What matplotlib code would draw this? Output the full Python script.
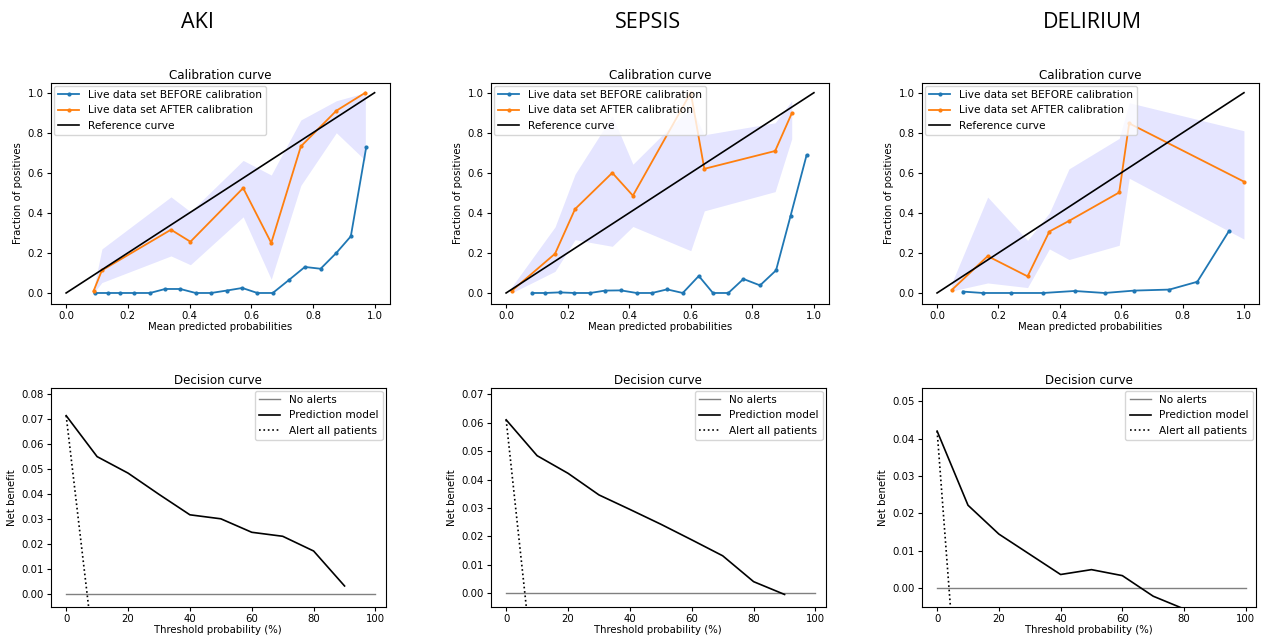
import matplotlib
matplotlib.use("Agg")
import matplotlib.pyplot as plt

# ---------------- data ----------------
outcomes = ["AKI", "SEPSIS", "DELIRIUM"]

# Calibration: BEFORE calibration
aki_before_x = [0.092, 0.135, 0.175, 0.221, 0.272, 0.321, 0.37, 0.42, 0.47, 0.52, 0.571, 0.62, 0.67, 0.724, 0.774, 0.825, 0.876, 0.923, 0.973]
aki_before_y = [0, 0, 0, 0, 0, 0.02, 0.02, 0, 0, 0.012, 0.025, 0, 0, 0.067, 0.13, 0.121, 0.2, 0.283, 0.729]
sep_before_x = [0.084, 0.127, 0.174, 0.222, 0.273, 0.322, 0.373, 0.424, 0.474, 0.523, 0.574, 0.626, 0.672, 0.722, 0.771, 0.825, 0.877, 0.924, 0.976]
sep_before_y = [0, 0, 0.003, 0, 0, 0.012, 0.013, 0, 0, 0.018, 0, 0.085, 0, 0, 0.07, 0.038, 0.113, 0.384, 0.687]
del_before_x = [0.084, 0.149, 0.242, 0.346, 0.448, 0.546, 0.643, 0.757, 0.848, 0.951]
del_before_y = [0.007, 0, 0, 0, 0.01, 0, 0.012, 0.017, 0.056, 0.309]

# Calibration: AFTER calibration, with band
aki_after_x = [0.089, 0.116, 0.34, 0.403, 0.574, 0.665, 0.761, 0.876, 0.97]
aki_after_y = [0.01, 0.113, 0.316, 0.256, 0.524, 0.25, 0.732, 0.91, 1.0]
aki_upper = [0.02, 0.22, 0.48, 0.406, 0.662, 0.589, 0.864, 0.96, 1.0]
aki_lower = [0.0, 0.052, 0.185, 0.141, 0.38, 0.068, 0.537, 0.80, 0.662]

sep_after_x = [0.018, 0.159, 0.224, 0.345, 0.412, 0.6, 0.644, 0.874, 0.928]
sep_after_y = [0.01, 0.196, 0.419, 0.6, 0.486, 1.0, 0.62, 0.709, 0.897]
sep_upper = [0.03, 0.33, 0.593, 0.885, 0.643, 0.93, 0.79, 0.85, 0.96]
sep_lower = [0.0, 0.108, 0.266, 0.233, 0.332, 0.211, 0.41, 0.506, 0.77]

del_after_x = [0.048, 0.165, 0.295, 0.366, 0.43, 0.5935, 0.626, 1.0]
del_after_y = [0.015, 0.184, 0.083, 0.307, 0.36, 0.502, 0.847, 0.556]
del_upper = [0.05, 0.479, 0.263, 0.40, 0.62, 0.772, 0.95, 0.81]
del_lower = [0.01, 0.05, 0.027, 0.22, 0.167, 0.238, 0.573, 0.269]

# Decision curves (threshold in %)
aki_thr = [0, 10, 20, 30, 40, 50, 60, 70, 80, 90]
aki_model = [0.0715, 0.0551, 0.0485, 0.040, 0.0318, 0.0302, 0.0248, 0.0232, 0.0173, 0.0033]
sep_thr = [0, 10, 20, 30, 40, 50, 60, 70, 80, 90]
sep_model = [0.061, 0.0484, 0.0422, 0.0346, 0.0295, 0.0243, 0.0188, 0.0132, 0.0041, -0.0004]
del_thr = [0, 10, 20, 30, 40, 50, 60, 70, 80]
del_model = [0.042, 0.0222, 0.0145, 0.0091, 0.0037, 0.0050, 0.0034, -0.0021, -0.0055]

all_thr = [0, 10]
aki_all = [0.0715, -0.034]
sep_all = [0.061, -0.040]
del_all = [0.042, -0.067]

none_thr = [0, 100]
none_val = [0, 0]

dec_ylims = [(-0.005, 0.0827), (-0.0047, 0.0723), (-0.0049, 0.0536)]

# ---------------- figure ----------------
W, H = 1263, 642
fig = plt.figure(figsize=(W / 100, H / 100), dpi=100)

def fx(px):
    return px / W

def fy(py):
    return 1 - py / H

calib_boxes = [(50.7, 390.0), (490.7, 829.3), (921.7, 1259.3)]
dec_boxes = [(50.7, 385.7), (490.7, 825.7), (921.7, 1256.0)]
header_x = [197, 648, 1092]

before = [(aki_before_x, aki_before_y), (sep_before_x, sep_before_y), (del_before_x, del_before_y)]
after = [(aki_after_x, aki_after_y, aki_lower, aki_upper),
         (sep_after_x, sep_after_y, sep_lower, sep_upper),
         (del_after_x, del_after_y, del_lower, del_upper)]
decisions = [(aki_thr, aki_model, aki_all), (sep_thr, sep_model, sep_all), (del_thr, del_model, del_all)]

fs = 7.3      # ticks / axis labels
lfs = 7.6     # legend
tfs = 8.6     # subplot titles
for i in range(3):
    # header
    fig.text(fx(header_x[i]), fy(22), outcomes[i], ha="center", va="center",
             fontsize=15.5, family="Open Sans")

    # calibration
    l, r = calib_boxes[i]
    ax = fig.add_axes([fx(l), fy(304), fx(r - l), (304 - 82.7) / H])
    bx, by = before[i]
    axx, ayy, lo, up = after[i]
    ax.fill_between(axx, lo, up, color="b", alpha=0.1, linewidth=0)
    ax.plot(bx, by, marker=".", markersize=4, lw=1.3, color="#1f77b4",
            label="Live data set BEFORE calibration")
    ax.plot(axx, ayy, marker=".", markersize=4, lw=1.3, color="#ff7f0e",
            label="Live data set AFTER calibration")
    ax.plot([0, 1], [0, 1], color="k", lw=1.2, label="Reference curve")
    ax.set_xlim(-0.05, 1.05)
    ax.set_ylim(-0.055, 1.05)
    ax.set_xticks([0, 0.2, 0.4, 0.6, 0.8, 1.0])
    ax.set_yticks([0, 0.2, 0.4, 0.6, 0.8, 1.0])
    ax.tick_params(labelsize=fs, length=3, pad=2)
    ax.set_title("Calibration curve", fontsize=tfs, pad=3)
    ax.set_xlabel("Mean predicted probabilities", fontsize=fs, labelpad=1)
    ax.set_ylabel("Fraction of positives", fontsize=fs, labelpad=3)
    ax.legend(loc="upper left", fontsize=lfs, borderaxespad=0.3,
              handlelength=2.0, labelspacing=0.5, borderpad=0.4, framealpha=0.8)

    # decision
    l, r = dec_boxes[i]
    ax2 = fig.add_axes([fx(l), fy(606.7), fx(r - l), (606.7 - 387.7) / H])
    thr, model, allp = decisions[i]
    ax2.plot(none_thr, none_val, color="gray", lw=1.0, label="No alerts")
    ax2.plot(thr, model, color="k", lw=1.2, label="Prediction model")
    ax2.plot(all_thr, allp, color="k", lw=1.2, ls=":", label="Alert all patients")
    ax2.set_xlim(-5, 103.3)
    ax2.set_ylim(*dec_ylims[i])
    ax2.set_xticks([0, 20, 40, 60, 80, 100])
    ax2.tick_params(labelsize=fs, length=3, pad=2)
    ax2.set_title("Decision curve", fontsize=tfs, pad=3)
    ax2.set_xlabel("Threshold probability (%)", fontsize=fs, labelpad=1)
    ax2.set_ylabel("Net benefit", fontsize=fs, labelpad=3)
    ax2.legend(loc="upper right", fontsize=lfs, borderaxespad=0.3,
               handlelength=2.0, labelspacing=0.5, borderpad=0.4, framealpha=0.8)

fig.savefig("out.png", dpi=100)
